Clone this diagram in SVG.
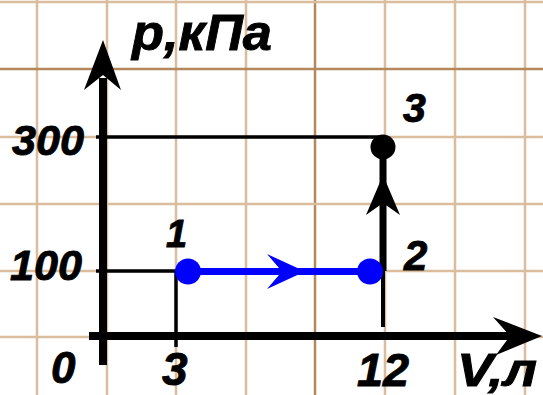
<svg xmlns="http://www.w3.org/2000/svg" width="543" height="395" viewBox="0 0 543 395">
<style>
.g{stroke:#d9bd9c;stroke-width:2.5;fill:none}
.gd{stroke:#b4885a;stroke-width:2.5;fill:none}
.k{stroke:#000;fill:none}
.t{font-family:"Liberation Sans",Arial,sans-serif;font-weight:bold;font-style:italic;fill:#000;stroke:#000;stroke-width:0.9}
</style>
<rect width="543" height="395" fill="#fff"/>
<g id="grid">
<line class="g" x1="37" y1="0" x2="37" y2="395"/>
<line class="g" x1="107" y1="0" x2="107" y2="395"/>
<line class="g" x1="176" y1="0" x2="176" y2="395"/>
<line class="g" x1="246" y1="0" x2="246" y2="395"/>
<line class="gd" x1="315" y1="0" x2="315" y2="395"/>
<line class="g" x1="385" y1="0" x2="385" y2="395"/>
<line class="g" x1="455" y1="0" x2="455" y2="395"/>
<line class="g" x1="525" y1="0" x2="525" y2="395"/>
<line class="g" x1="0" y1="2" x2="543" y2="2"/>
<line class="gd" x1="0" y1="69" x2="543" y2="69"/>
<line class="g" x1="0" y1="137" x2="543" y2="137"/>
<line class="g" x1="0" y1="204" x2="543" y2="204"/>
<line class="g" x1="0" y1="271" x2="543" y2="271"/>
<line class="g" x1="0" y1="337" x2="543" y2="337"/>
</g>
<g id="axes">
<line class="k" x1="103" y1="365" x2="103" y2="78" stroke-width="8"/>
<polygon points="103,40 121,90 103,75 84,90" fill="#000"/>
<line class="k" x1="89" y1="336" x2="512" y2="336" stroke-width="8"/>
<polygon points="542,336 496,355 510,336 493,317" fill="#000"/>
<line class="k" x1="96" y1="137" x2="383" y2="137" stroke-width="3.5"/>
<line class="k" x1="96" y1="271" x2="176" y2="271" stroke-width="3.5"/>
<line class="k" x1="176" y1="271" x2="176" y2="347" stroke-width="3.5"/>
</g>
<g id="connectors">
<line x1="188" y1="271.5" x2="370" y2="271.5" stroke="#0000ff" stroke-width="7"/>
<polygon points="305,271.5 267,289 282,271.5 267,254" fill="#0000ff"/>
<line class="k" x1="383" y1="327" x2="383" y2="271" stroke-width="4"/>
<line class="k" x1="383" y1="271" x2="383" y2="147" stroke-width="7"/>
<polygon points="383,175 400,215 383,203 366,215" fill="#000"/>
</g>
<g id="node1"><circle cx="188" cy="271.5" r="13" fill="#0000ff"/><text class="t" x="166" y="247" font-size="38">1</text></g>
<g id="node2"><circle cx="370" cy="271.5" r="13" fill="#0000ff"/><text class="t" x="404" y="270" font-size="42">2</text></g>
<g id="node3"><circle cx="383" cy="147" r="12.5" fill="#000"/><text class="t" x="403" y="122" font-size="41">3</text></g>
<g id="labels">
<text class="t" x="132" y="50" font-size="50" textLength="140" lengthAdjust="spacingAndGlyphs">p,кПа</text>
<text class="t" x="12" y="155" font-size="43" textLength="72" lengthAdjust="spacingAndGlyphs">300</text>
<text class="t" x="10" y="280" font-size="43" textLength="72" lengthAdjust="spacingAndGlyphs">100</text>
<text class="t" x="51" y="383" font-size="44">0</text>
<text class="t" x="162" y="385" font-size="46">3</text>
<text class="t" x="357" y="386" font-size="46" textLength="52" lengthAdjust="spacingAndGlyphs">12</text>
<text class="t" x="457" y="386" font-size="46" textLength="80" lengthAdjust="spacingAndGlyphs">V,л</text>
</g>
</svg>
